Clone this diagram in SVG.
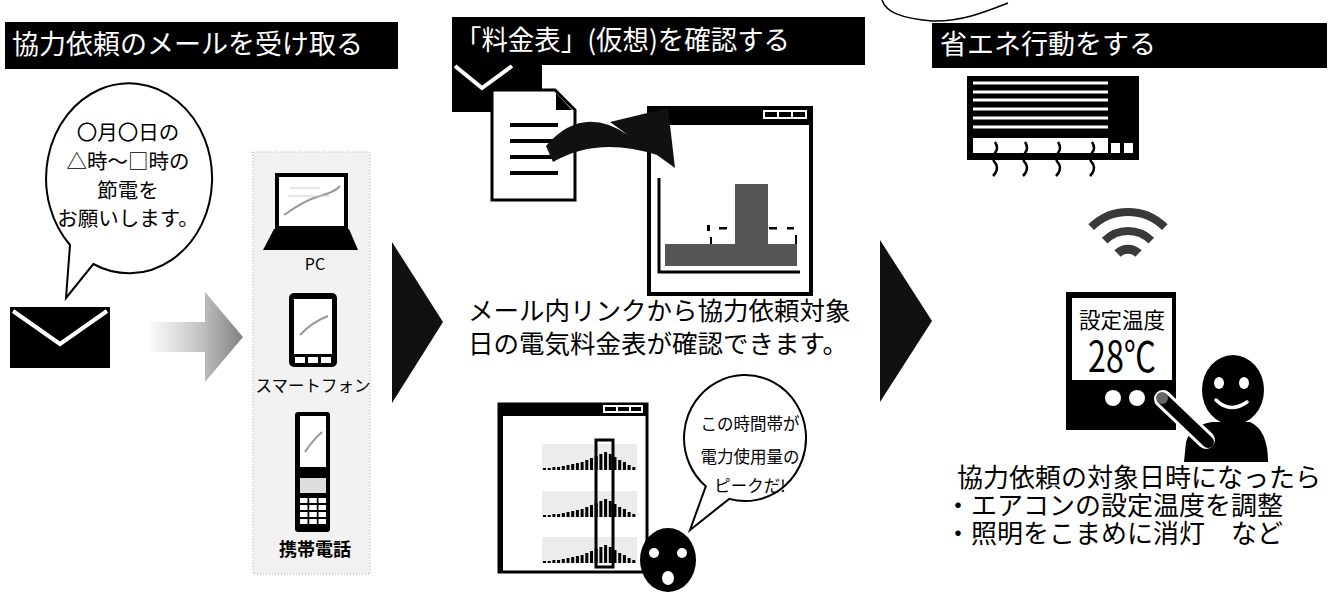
<svg xmlns="http://www.w3.org/2000/svg" xmlns:xlink="http://www.w3.org/1999/xlink" width="1335" height="596" viewBox="0 0 1335 596">
  <style>
    .jp { font-family: "Noto Sans CJK JP", "Noto Sans", sans-serif; fill: #000; }
    .hdr { fill: #000; }
    .hdrtxt { font-family: "Noto Sans CJK JP", sans-serif; font-size: 27px; fill: #fff; }
    .ink { fill: #000; }
    .line { fill: none; stroke: #000; }
    .bubble { fill: #fff; stroke: #000; stroke-width: 2; }
    .halftone { fill: #555; }
    .panel { fill: #f2f2f2; stroke: #aaa; stroke-width: 1; stroke-dasharray: 1 2; }
  </style>
  <defs>
    <linearGradient id="grayArrow" x1="150" y1="0" x2="243" y2="0" gradientUnits="userSpaceOnUse">
      <stop offset="0" stop-color="#fbfbfb"/>
      <stop offset="0.5" stop-color="#c8c8c8"/>
      <stop offset="1" stop-color="#808080"/>
    </linearGradient>
    <!-- one row of hourly usage bars, baseline at y=0 -->
    <g id="minibars">
      <rect x="542" y="-26" width="95" height="26" fill="#ececec"/>
      <rect x="543" y="-2" width="3" height="2"/>
      <rect x="547.7" y="-2" width="3" height="2"/>
      <rect x="552.4" y="-3" width="3" height="3"/>
      <rect x="557.1" y="-3" width="3" height="3"/>
      <rect x="561.8" y="-4" width="3" height="4"/>
      <rect x="566.5" y="-5" width="3" height="5"/>
      <rect x="571.2" y="-6" width="3" height="6"/>
      <rect x="575.9" y="-7" width="3" height="7"/>
      <rect x="580.6" y="-8" width="3" height="8"/>
      <rect x="585.3" y="-10" width="3" height="10"/>
      <rect x="590" y="-12" width="3" height="12"/>
      <rect x="594.7" y="-14" width="3" height="14"/>
      <rect x="599.4" y="-16" width="3" height="16"/>
      <rect x="604.1" y="-18" width="3" height="18"/>
      <rect x="608.8" y="-16" width="3" height="16"/>
      <rect x="613.5" y="-13" width="3" height="13"/>
      <rect x="618.2" y="-10" width="3" height="10"/>
      <rect x="622.9" y="-8" width="3" height="8"/>
      <rect x="627.6" y="-5" width="3" height="5"/>
      <rect x="632.3" y="-3" width="3" height="3"/>
    </g>
  </defs>

  <rect width="1335" height="596" fill="#fff"/>

  <!-- section headers -->
  <g id="header-receive">
    <rect class="hdr" x="5" y="22" width="393" height="47"/>
    <text class="hdrtxt" x="12" y="54">協力依頼のメールを受け取る</text>
  </g>
  <g id="header-check">
    <rect class="hdr" x="452" y="17" width="413" height="48"/>
    <text class="hdrtxt" x="455" y="50" textLength="335" lengthAdjust="spacingAndGlyphs">「料金表」(仮想)を確認する</text>
  </g>
  <g id="header-act">
    <rect class="hdr" x="932" y="23" width="395" height="45"/>
    <text class="hdrtxt" x="940" y="54">省エネ行動をする</text>
  </g>

  <!-- bottom edge of a callout above the page -->
  <g id="callout-top">
    <path class="line" stroke-width="1.5" d="M 882 0 C 886 12 900 18 932 21 C 960 22 985 12 1008 3"/>
  </g>

  <!-- request message bubble -->
  <g id="request-bubble">
    <path class="bubble" d="M 93.3 264 A 83 95 0 1 0 70 245 L 66 298 Z"/>
    <g class="jp" font-size="20.5" text-anchor="middle">
      <text x="128" y="140">〇月〇日の</text>
      <text x="128" y="169">△時～□時の</text>
      <text x="128" y="198">節電を</text>
      <text x="128" y="226">お願いします。</text>
    </g>
  </g>

  <!-- mail envelope -->
  <g id="mail">
    <rect class="ink" x="10" y="307" width="100" height="61"/>
    <polyline points="13,311 60,344 107,311" fill="none" stroke="#fff" stroke-width="4"/>
  </g>

  <!-- receiving devices -->
  <g id="devices">
    <rect class="panel" x="253" y="152" width="117" height="422"/>
    <!-- PC -->
    <rect x="277" y="175" width="69" height="53" fill="#fff" stroke="#000" stroke-width="4"/>
    <path d="M 284 215 Q 305 200 320 196 T 340 186" fill="none" stroke="#999" stroke-width="2"/>
    <path d="M 288 196 H 330 M 290 188 H 320" fill="none" stroke="#ccc" stroke-width="1"/>
    <polygon class="ink" points="274,229 349,229 358,250 263,250"/>
    <text class="jp" x="315" y="270" font-size="16" text-anchor="middle">PC</text>
    <!-- smartphone -->
    <rect class="ink" x="289" y="293" width="48" height="74" rx="5"/>
    <rect x="294" y="299" width="38" height="55" fill="#fff"/>
    <path d="M 300 335 Q 312 322 328 316" fill="none" stroke="#999" stroke-width="2"/>
    <rect x="295" y="357" width="10" height="6" fill="#fff"/>
    <rect x="308" y="357" width="10" height="6" fill="#fff"/>
    <rect x="321" y="357" width="10" height="6" fill="#fff"/>
    <text class="jp" x="313" y="392" font-size="16.5" text-anchor="middle">スマートフォン</text>
    <!-- flip phone -->
    <rect class="ink" x="295" y="412" width="35" height="120" rx="3"/>
    <rect x="300" y="416" width="26" height="51" fill="#fff"/>
    <path d="M 305 452 Q 313 440 322 432" fill="none" stroke="#999" stroke-width="2"/>
    <rect x="300" y="478" width="26" height="15" fill="#ddd"/>
    <g fill="#fff">
      <rect x="300" y="498" width="7.5" height="5"/>
      <rect x="309.3" y="498" width="7.5" height="5"/>
      <rect x="318.5" y="498" width="7.5" height="5"/>
      <rect x="300" y="505" width="7.5" height="5"/>
      <rect x="309.3" y="505" width="7.5" height="5"/>
      <rect x="318.5" y="505" width="7.5" height="5"/>
      <rect x="300" y="512" width="7.5" height="5"/>
      <rect x="309.3" y="512" width="7.5" height="5"/>
      <rect x="318.5" y="512" width="7.5" height="5"/>
      <rect x="300" y="519" width="7.5" height="5"/>
      <rect x="309.3" y="519" width="7.5" height="5"/>
      <rect x="318.5" y="519" width="7.5" height="5"/>
    </g>
    <text class="jp" x="315" y="556" font-size="18" text-anchor="middle" font-weight="bold">携帯電話</text>
  </g>

  <!-- link mail and rate document -->
  <g id="rate-mail">
    <rect class="ink" x="452" y="60" width="90" height="52"/>
    <polyline points="455,66 482,88 512,66" fill="none" stroke="#fff" stroke-width="4"/>
    <path d="M 492 90 H 555 L 575 110 V 200 H 492 Z" fill="#fff" stroke="#000" stroke-width="3"/>
    <path class="ink" d="M 556 93 L 572 110 H 556 Z"/>
    <rect class="ink" x="510" y="123" width="48" height="4"/>
    <rect class="ink" x="510" y="139" width="48" height="4"/>
    <rect class="ink" x="510" y="155" width="48" height="4"/>
    <rect class="ink" x="510" y="171" width="48" height="4"/>
  </g>

  <!-- rate table window -->
  <g id="rate-window">
    <rect x="649" y="108" width="162" height="186" fill="#fff" stroke="#000" stroke-width="4"/>
    <rect class="ink" x="649" y="108" width="162" height="17"/>
    <rect x="763" y="110" width="44" height="9" fill="#fff"/>
    <rect class="ink" x="765" y="112" width="12" height="5"/>
    <rect class="ink" x="779" y="112" width="12" height="5"/>
    <rect class="ink" x="793" y="112" width="12" height="5"/>
    <path class="line" stroke-width="3" d="M 659 178 V 272 H 800"/>
    <rect class="halftone" x="665" y="244" width="132" height="22"/>
    <rect class="halftone" x="735" y="184" width="33" height="60"/>
    <rect class="ink" x="707" y="225" width="3" height="6"/>
    <rect class="ink" x="719" y="227" width="8" height="2.5"/>
    <rect class="ink" x="769" y="227" width="8" height="2.5"/>
    <rect class="ink" x="787" y="227" width="7" height="2.5"/>
    <rect class="ink" x="710" y="237" width="2" height="7"/>
    <rect class="ink" x="795" y="235" width="2" height="9"/>
  </g>

  <g id="rate-caption" class="jp" font-size="25.5">
    <text x="468" y="320">メール内リンクから協力依頼対象</text>
    <text x="468" y="353">日の電気料金表が確認できます。</text>
  </g>

  <!-- usage graph window -->
  <g id="usage-window">
    <rect x="499" y="404" width="148" height="168" fill="#fff" stroke="#000" stroke-width="3"/>
    <rect class="ink" x="498" y="403" width="150" height="13"/>
    <rect class="ink" x="498" y="403" width="5" height="170"/>
    <rect x="603" y="405" width="40" height="8" fill="#fff"/>
    <rect class="ink" x="605" y="407" width="11" height="4"/>
    <rect class="ink" x="618" y="407" width="11" height="4"/>
    <rect class="ink" x="631" y="407" width="10" height="4"/>
    <use xlink:href="#minibars" href="#minibars" transform="translate(0,470)"/>
    <use xlink:href="#minibars" href="#minibars" transform="translate(0,517)"/>
    <use xlink:href="#minibars" href="#minibars" transform="translate(0,563)"/>
    <rect x="596" y="440" width="17" height="127" fill="none" stroke="#000" stroke-width="3"/>
  </g>

  <!-- peak remark bubble -->
  <g id="peak-bubble">
    <path class="bubble" d="M 729.2 498.9 A 61 63 0 1 0 705.8 486.3 L 690 530 Z"/>
    <g class="jp" font-size="16.5" text-anchor="middle">
      <text x="750" y="430">この時間帯が</text>
      <text x="750" y="463">電力使用量の</text>
      <text x="750" y="492">ピークだ!</text>
    </g>
  </g>

  <!-- surprised face -->
  <g id="face">
    <ellipse class="ink" cx="668" cy="560" rx="28" ry="32"/>
    <circle cx="654" cy="553" r="5" fill="#fff"/>
    <circle cx="682" cy="553" r="5" fill="#fff"/>
    <ellipse cx="668" cy="578" rx="6" ry="7" fill="#fff"/>
  </g>

  <!-- air conditioner -->
  <g id="aircon">
    <rect class="ink" x="967" y="76" width="172" height="84"/>
    <path d="M 973 83 H 1108 M 973 92 H 1108 M 973 100 H 1108 M 973 109 H 1108 M 973 118 H 1108 M 973 127 H 1108" stroke="#fff" stroke-width="3"/>
    <rect x="973" y="138" width="135" height="15" fill="#fff"/>
    <rect x="1111" y="143" width="9" height="10" fill="#fff"/>
    <rect x="1124" y="143" width="9" height="10" fill="#fff"/>
    <g class="line" stroke-width="2.5">
      <path d="M 995 142 q 4 6 0 11 q -4 6 1 11 q 3 6 -3 12"/>
      <path d="M 1025 142 q 4 6 0 11 q -4 6 1 11 q 3 6 -3 12"/>
      <path d="M 1058 142 q 4 6 0 11 q -4 6 1 11 q 3 6 -3 12"/>
      <path d="M 1092 142 q 4 6 0 11 q -4 6 1 11 q 3 6 -3 12"/>
    </g>
  </g>

  <!-- wireless signal -->
  <g id="signal" fill="none" stroke="#3a3a3a" stroke-width="8">
    <path d="M 1091.2 227.2 A 52 52 0 0 1 1164.8 227.2"/>
    <path d="M 1104.7 240.7 A 33 33 0 0 1 1151.3 240.7"/>
    <path d="M 1117.5 253.5 A 15 15 0 0 1 1138.5 253.5" stroke-width="9"/>
  </g>

  <!-- thermostat panel -->
  <g id="thermostat">
    <rect class="ink" x="1066" y="292" width="110" height="138"/>
    <rect x="1072" y="298" width="100" height="82" fill="#fff"/>
    <text class="jp" x="1122" y="328" font-size="21.5" text-anchor="middle">設定温度</text>
    <text class="jp" x="1088" y="372" font-size="42" textLength="68" lengthAdjust="spacingAndGlyphs">28℃</text>
    <circle cx="1113" cy="398" r="8" fill="#fff"/>
    <circle cx="1137" cy="398" r="8" fill="#fff"/>
  </g>

  <!-- person pressing the button -->
  <g id="person">
    <path class="ink" d="M 1184 462 L 1186 442 Q 1191 425 1212 422 L 1250 422 Q 1268 430 1268 462 Z"/>
    <ellipse class="ink" cx="1233" cy="390" rx="31" ry="35"/>
    <ellipse cx="1219" cy="383" rx="5" ry="6" fill="#fff"/>
    <ellipse cx="1244" cy="383" rx="5" ry="6" fill="#fff"/>
    <path d="M 1216 400 Q 1230 414 1247 402" fill="none" stroke="#fff" stroke-width="3.5" stroke-linecap="round"/>
    <line x1="1163" y1="399" x2="1206" y2="440" stroke="#fff" stroke-width="18" stroke-linecap="round"/>
    <line x1="1163" y1="399" x2="1208" y2="442" stroke="#000" stroke-width="12" stroke-linecap="round"/>
    <circle cx="1162" cy="398" r="6" fill="#666"/>
  </g>

  <g id="action-caption" class="jp" font-size="26">
    <text x="957" y="487">協力依頼の対象日時になったら</text>
    <text x="945" y="515">・エアコンの設定温度を調整</text>
    <text x="945" y="543">・照明をこまめに消灯　など</text>
  </g>

  <!-- flow arrows -->
  <g id="connectors">
    <polygon fill="url(#grayArrow)" points="150,322 205,322 205,292 243,337 205,382 205,352 150,352"/>
    <polygon fill="#111" points="392,242 443,322 392,403"/>
    <polygon fill="#111" points="880,240 932,321 880,402"/>
    <path fill="#111" d="M 546 146 Q 582 104 628 135 L 610 122 L 668 108 L 675 168 L 657 155 Q 598 136 553 162 Z"/>
  </g>
</svg>
